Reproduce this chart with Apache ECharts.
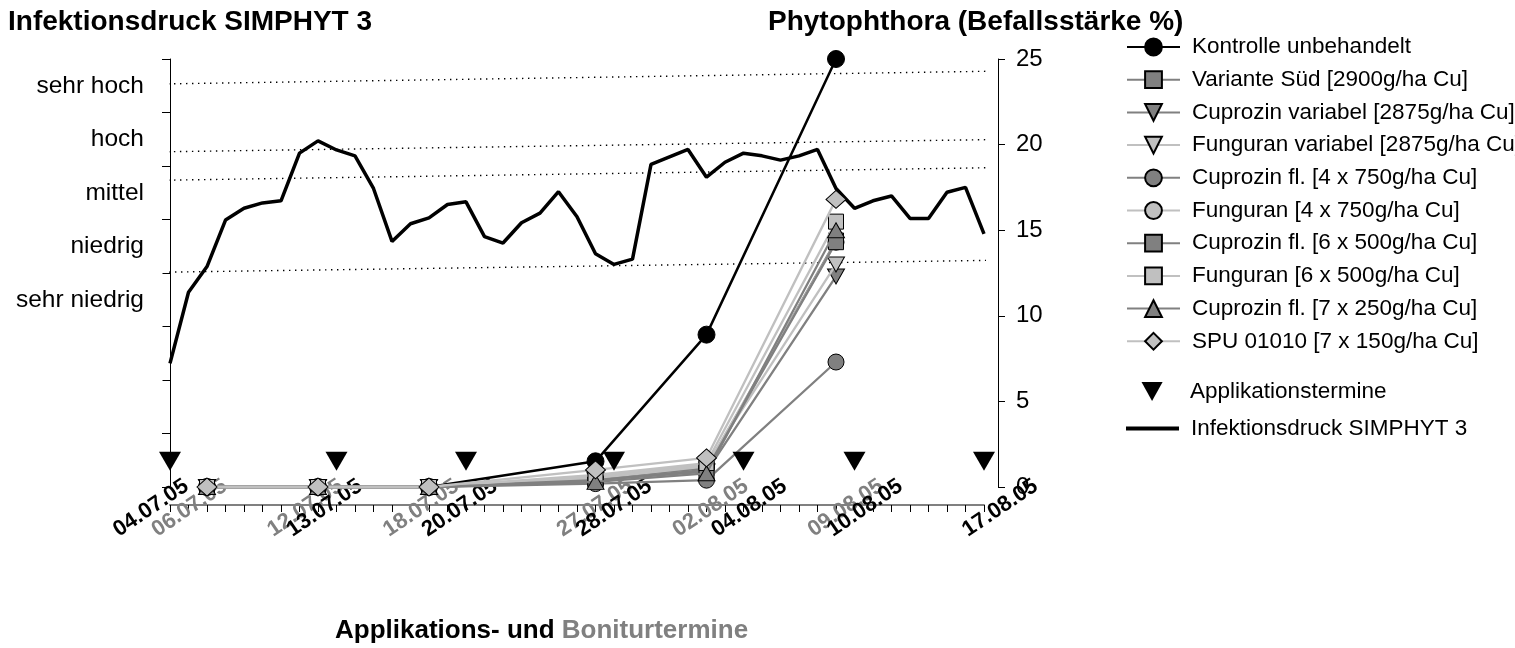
<!DOCTYPE html>
<html><head><meta charset="utf-8">
<script src="https://cdn.jsdelivr.net/npm/echarts@6/dist/echarts.min.js"></script>
<style>html,body{margin:0;padding:0;background:#fff}#c{width:1515px;height:648px}</style>
</head><body><div id="c"></div>
<script>
// ---------- data ----------
const startDate = '2005-07-04';
const endDate = '2005-08-17';
// Infektionsdruck SIMPHYT 3, daily values 04.07.05 - 17.08.05 (level units, 0..8)
const infectionPressure = [2.31,3.64,4.12,4.99,5.21,5.31,5.35,6.24,6.47,6.30,6.19,5.58,4.59,4.92,5.03,5.28,5.33,4.68,4.56,4.94,5.12,5.52,5.05,4.36,4.16,4.26,6.03,6.17,6.31,5.79,6.07,6.24,6.19,6.11,6.19,6.31,5.58,5.21,5.35,5.44,5.02,5.02,5.51,5.60,4.73];
const pressureLevels = ['', '', '', 'sehr niedrig', 'niedrig', 'mittel', 'hoch', 'sehr hoch'];
// level boundaries (slightly sloped dotted lines): day offsets and level values at both ends
const thresholdFromDay = [-1.08, -1.41, -1.08, -1.35];
const thresholdToDay   = [45.95, 45.57, 46.65, 45.03];
const thresholdFromLvl = [7.53, 6.26, 5.73, 4.01];
const thresholdToLvl   = [7.78, 6.50, 5.98, 4.24];

const applicationDates = ['2005-07-04','2005-07-13','2005-07-20','2005-07-28','2005-08-04','2005-08-10','2005-08-17'];
const applicationMarkerValue = 1.5;
const boniturDates = ['2005-07-06','2005-07-12','2005-07-18','2005-07-27','2005-08-02','2005-08-09'];

const seriesNames = [
  'Kontrolle unbehandelt',
  'Variante Süd [2900g/ha Cu]',
  'Cuprozin variabel [2875g/ha Cu]',
  'Funguran variabel [2875g/ha Cu]',
  'Cuprozin fl. [4 x 750g/ha Cu]',
  'Funguran [4 x 750g/ha Cu]',
  'Cuprozin fl. [6 x 500g/ha Cu]',
  'Funguran [6 x 500g/ha Cu]',
  'Cuprozin fl. [7 x 250g/ha Cu]',
  'SPU 01010 [7 x 150g/ha Cu]'
];
const kontrolle        = [0, 0, 0, 1.5, 8.9, 25.0];
const varianteSued     = [0, 0, 0, 0.5, 1.1, 14.4];
const cuprozinVariabel = [0, 0, 0, 0.4, 0.9, 12.3];
const funguranVariabel = [0, 0, 0, 0.6, 1.3, 13.0];
const cuprozin4x750    = [0, 0, 0, 0.2, 0.4, 7.3];
const funguran4x750    = [0, 0, 0, 0.5, 1.2, 14.3];
const cuprozin6x500    = [0, 0, 0, 0.4, 1.0, 14.3];
const funguran6x500    = [0, 0, 0, 0.7, 1.4, 15.5];
const cuprozin7x250    = [0, 0, 0, 0.3, 0.8, 15.0];
const spu01010         = [0, 0, 0, 1.0, 1.7, 16.8];
const diseaseValues = [kontrolle, varianteSued, cuprozinVariabel, funguranVariabel, cuprozin4x750,
  funguran4x750, cuprozin6x500, funguran6x500, cuprozin7x250, spu01010];

// ---------- helpers & styles ----------
const FONT = "'Liberation Sans', Arial, Helvetica, sans-serif";
const DAY = 86400000;
const t0 = Date.parse(startDate);
const dayOf = s => Math.round((Date.parse(s) - t0) / DAY);
const lastDay = dayOf(endDate);
const pad2 = n => String(n).padStart(2, '0');
const fmt = d => { const dt = new Date(t0 + d * DAY); return pad2(dt.getUTCDate()) + '.' + pad2(dt.getUTCMonth() + 1) + '.' + String(dt.getUTCFullYear()).slice(2); };
const appDays = applicationDates.map(dayOf);
const bonDays = boniturDates.map(dayOf);

const TRI_DOWN = 'path://M0,0L20,0L10,18Z';
const DARK = '#808080', LIGHT = '#c0c0c0';
const styles = [
  {symbol: 'circle', size: 17, fill: '#000', line: '#000', w: 2.5},
  {symbol: 'rect', size: 15, fill: DARK, line: DARK, w: 2.3},
  {symbol: TRI_DOWN, size: [17, 15], fill: DARK, line: DARK, w: 2.3},
  {symbol: TRI_DOWN, size: [17, 15], fill: LIGHT, line: LIGHT, w: 2.3},
  {symbol: 'circle', size: 16, fill: DARK, line: DARK, w: 2.3},
  {symbol: 'circle', size: 16, fill: LIGHT, line: LIGHT, w: 2.3},
  {symbol: 'rect', size: 15, fill: DARK, line: DARK, w: 2.3},
  {symbol: 'rect', size: 15, fill: LIGHT, line: LIGHT, w: 2.3},
  {symbol: 'triangle', size: [17, 15], fill: DARK, line: DARK, w: 2.3},
  {symbol: 'diamond', size: [20, 18], fill: LIGHT, line: LIGHT, w: 2.3}
];

const series = [];
// dotted level boundaries
thresholdFromDay.forEach((fd, i) => {
  series.push({
    type: 'line', name: 'Grenze ' + i, xAxisIndex: 0, yAxisIndex: 2,
    data: [[fd, thresholdFromLvl[i]], [thresholdToDay[i], thresholdToLvl[i]]],
    symbol: 'none', clip: false, silent: true, z: 1,
    lineStyle: {color: '#000', width: 1.4, type: [1.4, 4.6]}
  });
});
// infection pressure
series.push({
  type: 'line', name: 'Infektionsdruck SIMPHYT 3', xAxisIndex: 0, yAxisIndex: 2,
  data: infectionPressure.map((v, d) => [d, v]),
  symbol: 'none', clip: false, z: 2,
  lineStyle: {color: '#000', width: 3.5}, itemStyle: {color: '#000'}
});
// disease severity
seriesNames.forEach((name, i) => {
  const s = styles[i];
  series.push({
    type: 'line', name, xAxisIndex: 0, yAxisIndex: 1,
    data: diseaseValues[i].map((v, j) => [bonDays[j], v]),
    symbol: s.symbol, symbolSize: s.size, showSymbol: true, clip: false, z: 3 + i,
    lineStyle: {color: s.line, width: s.w},
    itemStyle: {color: s.fill, borderColor: '#000', borderWidth: 1, opacity: 1}
  });
});
// application dates
series.push({
  type: 'scatter', name: 'Applikationstermine', xAxisIndex: 0, yAxisIndex: 1,
  data: appDays.map(d => [d, applicationMarkerValue]),
  symbol: TRI_DOWN, symbolSize: [22, 19], clip: false, z: 20,
  itemStyle: {color: '#000', opacity: 1}
});

const legendText = {fontSize: 22.5, fontFamily: FONT, color: '#000', lineHeight: 22};
const titleStyle = {fontSize: 28, fontWeight: 'bold', color: '#000', fontFamily: FONT};

const option = {
  animation: false,
  backgroundColor: '#fff',
  title: [
    {text: 'Infektionsdruck SIMPHYT 3', left: 8, top: 8, padding: 0, textStyle: titleStyle},
    {text: 'Phytophthora (Befallsstärke %)', left: 768, top: 8, padding: 0, textStyle: titleStyle},
    {text: '{a|Applikations- und }{b|Boniturtermine}', left: 335, top: 618, padding: 0,
     textStyle: {fontSize: 26, fontWeight: 'bold', fontFamily: FONT,
       rich: {a: {fontSize: 26, fontWeight: 'bold', color: '#000', fontFamily: FONT},
              b: {fontSize: 26, fontWeight: 'bold', color: '#808080', fontFamily: FONT}}}}
  ],
  legend: [
    {data: seriesNames, orient: 'vertical', left: 1126, top: 35.5, padding: 0,
     itemWidth: 53, itemHeight: 21, itemGap: 9.7, selectedMode: false,
     textStyle: Object.assign({padding: [0, 0, 0, 7]}, legendText)},
    {data: ['Applikationstermine'], orient: 'vertical', left: 1141.5, top: 380, padding: 0,
     itemWidth: 23, itemHeight: 19, icon: TRI_DOWN, selectedMode: false,
     itemStyle: {color: '#000', opacity: 1},
     textStyle: Object.assign({padding: [0, 0, 0, 21.5]}, legendText)},
    {data: ['Infektionsdruck SIMPHYT 3'], orient: 'vertical', left: 1126, top: 417, padding: 0,
     itemWidth: 53, itemHeight: 4, icon: 'rect', selectedMode: false,
     textStyle: Object.assign({padding: [0, 0, 0, 7]}, legendText)}
  ],
  grid: [
    {left: 170, right: 531, top: 59, bottom: 161, containLabel: false},
    {left: 151, right: 514.8, top: 59, bottom: 143, containLabel: false}
  ],
  xAxis: [
    {type: 'value', gridIndex: 0, min: 0, max: lastDay, interval: 1, position: 'bottom', offset: 18,
     axisLine: {show: true, onZero: false, lineStyle: {color: '#808080', width: 2}},
     axisTick: {show: true, length: 7, lineStyle: {color: '#000', width: 1}},
     axisLabel: {show: false}, splitLine: {show: false}},
    {type: 'value', gridIndex: 1, min: 0, max: lastDay, interval: 1, position: 'bottom',
     axisLine: {show: false}, axisTick: {show: false}, splitLine: {show: false},
     axisLabel: {
       show: true, rotate: 34, align: 'center', verticalAlign: 'middle', margin: 3,
       showMinLabel: true, showMaxLabel: true, hideOverlap: false,
       formatter: v => {
         const d = Math.round(v);
         if (appDays.includes(d)) return '{a|' + fmt(d) + '}';
         if (bonDays.includes(d)) return '{b|' + fmt(d) + '}';
         return '';
       },
       rich: {
         a: {color: '#000', fontWeight: 'bold', fontSize: 22, fontFamily: FONT},
         b: {color: '#808080', fontWeight: 'bold', fontSize: 22, fontFamily: FONT}
       }
     }}
  ],
  yAxis: [
    {type: 'category', gridIndex: 0, position: 'left', offset: 15, data: pressureLevels, boundaryGap: true,
     axisLine: {show: true, lineStyle: {color: '#000', width: 1}},
     axisTick: {show: true, length: 8, interval: 0, lineStyle: {color: '#000', width: 1}},
     axisLabel: {show: true, interval: 0, margin: 11, fontSize: 24.5, color: '#000', fontFamily: FONT},
     splitLine: {show: false}},
    {type: 'value', gridIndex: 0, position: 'right', offset: 14, min: 0, max: 25, interval: 5,
     axisLine: {show: true, lineStyle: {color: '#000', width: 1}},
     axisTick: {show: true, length: 7, lineStyle: {color: '#000', width: 1}},
     axisLabel: {show: true, margin: 18, fontSize: 24, color: '#000', fontFamily: FONT},
     splitLine: {show: false}},
    {type: 'value', gridIndex: 0, min: 0, max: 8, show: false},
    {type: 'value', gridIndex: 1, min: 0, max: 1, show: false}
  ],
  graphic: [
    // white box behind the "sehr niedrig" label interrupting the left axis
    {type: 'rect', z: 100, shape: {x: 146.5, y: 268, width: 16, height: 130}, style: {fill: '#fff'}}
  ],
  series
};

const chart = echarts.init(document.getElementById('c'), null, {renderer: 'canvas'});
chart.setOption(option);
</script>
</body></html>
